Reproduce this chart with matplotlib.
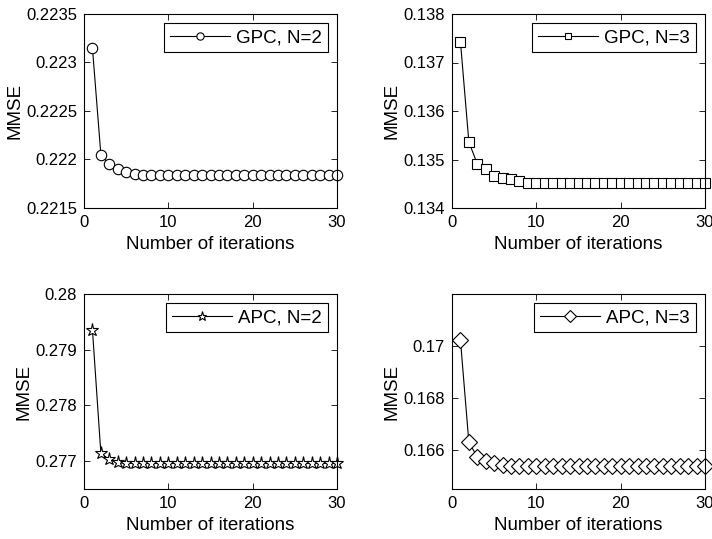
import matplotlib
matplotlib.use("Agg")
import matplotlib.pyplot as plt
import numpy as np

plt.rcParams['font.family'] = ['Liberation Sans', 'DejaVu Sans']

iters = list(range(1, 31))

gpc_n2 = [0.22315, 0.22205, 0.22195, 0.22190, 0.22187, 0.22185, 0.22184, 0.22184] + [0.22184] * 22
gpc_n3 = [0.13743, 0.13536, 0.13491, 0.13481, 0.13467, 0.13462, 0.13459, 0.13456, 0.13452] + [0.13451] * 21
apc_n2 = [0.27936, 0.27714, 0.27703, 0.27698] + [0.27696] * 26
apc_n3 = [0.17023, 0.16629, 0.16574, 0.16558, 0.16551, 0.16542] + [0.16540] * 24

labels = ["GPC, N=2", "GPC, N=3", "APC, N=2", "APC, N=3"]
series = [gpc_n2, gpc_n3, apc_n2, apc_n3]
markers = ['o', 's', '*', 'D']
msizes = [7.5, 7, 9.5, 8.5]
ylims = [(0.2215, 0.2235), (0.134, 0.138), (0.2765, 0.28), (0.1645, 0.172)]
yticks = [[0.2215, 0.222, 0.2225, 0.223, 0.2235],
          [0.134, 0.135, 0.136, 0.137, 0.138],
          [0.277, 0.278, 0.279, 0.28],
          [0.166, 0.168, 0.17]]
ytlabels = [["0.2215", "0.222", "0.2225", "0.223", "0.2235"],
            ["0.134", "0.135", "0.136", "0.137", "0.138"],
            ["0.277", "0.278", "0.279", "0.28"],
            ["0.166", "0.168", "0.17"]]

W, H = 712, 539
fig = plt.figure(figsize=(W / 100, H / 100), dpi=100)
boxes = [(84, 14, 337, 208), (452, 14, 705, 208), (84, 294, 337, 489), (452, 294, 705, 489)]

for i in range(4):
    x0, y0, x1, y1 = boxes[i]
    ax = fig.add_axes([x0 / W, 1 - y1 / H, (x1 - x0) / W, (y1 - y0) / H])
    ax.plot(iters, series[i], color='black', lw=0.8, marker=markers[i],
            markersize=msizes[i], markerfacecolor='white', markeredgecolor='black',
            markeredgewidth=0.8, label=labels[i], clip_on=False)
    ax.set_xlim(0, 30)
    ax.set_ylim(*ylims[i])
    ax.set_xticks([0, 10, 20, 30])
    ax.set_yticks(yticks[i])
    ax.set_yticklabels(ytlabels[i])
    ax.tick_params(direction='in', top=True, right=True, labelsize=12,
                   length=4, width=0.6, pad=5)
    for s in ax.spines.values():
        s.set_linewidth(0.8)
    ax.set_xlabel("Number of iterations", fontsize=13.5, labelpad=4)
    ax.set_ylabel("MMSE", fontsize=13.5, labelpad=2)
    leg = ax.legend(loc='upper right', numpoints=1, handlelength=3.2,
                    fontsize=13.5, fancybox=False, framealpha=1,
                    edgecolor='black', borderaxespad=0.5, borderpad=0.3,
                    handletextpad=0.35, markerscale=0.7)
    leg.get_frame().set_linewidth(0.8)

fig.savefig("out.png", dpi=100)
